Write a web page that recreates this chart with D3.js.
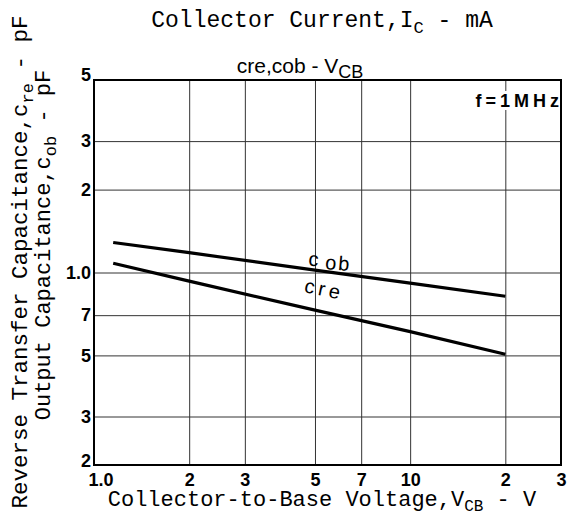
<!DOCTYPE html>
<html><head><meta charset="utf-8">
<script src="https://cdn.jsdelivr.net/npm/d3@7"></script>
<style>
html,body{margin:0;padding:0;background:#fff;}
svg{display:block;}
</style></head>
<body>
<script>
// ---- data ----
const vcb = [1.15, 2, 5, 10, 20];
const cob = [1.285, 1.18, 1.02, 0.915, 0.82];
const cre = [1.08, 0.93, 0.73, 0.61, 0.505];
const xTicks = [1, 2, 3, 5, 7, 10, 20, 30];
const xTickLabels = ["1.0", "2", "3", "5", "7", "10", "2", "3"];
const yTicks = [0.2, 0.3, 0.5, 0.7, 1, 2, 3, 5];
const yTickLabels = ["2", "3", "5", "7", "1.0", "2", "3", "5"];

const W = 572, H = 518;
const L = 94, R = 561, T = 80, B = 465;
const mono = "'Liberation Mono','DejaVu Sans Mono',monospace";
const sans = "'Liberation Sans Narrow','Liberation Sans',Arial,sans-serif";

const svg = d3.select("body").append("svg").attr("width", W).attr("height", H);
const x = d3.scaleLog().domain([1, 30]).range([L, R]);
const y = d3.scaleLog().domain([0.2, 5]).range([B, T]);

// grid + x labels
const gx = svg.append("g").attr("transform", `translate(0,${B})`)
  .call(d3.axisBottom(x).tickValues(xTicks).tickSize(-(B - T)).tickPadding(8)
    .tickFormat((d, i) => xTickLabels[i]));
gx.select(".domain").remove();
gx.selectAll(".tick line").attr("stroke", "#333").attr("stroke-width", 1);
gx.selectAll(".tick text").attr("fill", "#000").style("font-family", sans)
  .style("font-size", "18px").style("font-weight", "bold");
gx.selectAll(".tick text").filter((d, i) => i === 0).attr("text-anchor", "start").attr("dx", -6);

const gy = svg.append("g").attr("transform", `translate(${L},0)`)
  .call(d3.axisLeft(y).tickValues(yTicks).tickSize(-(R - L)).tickPadding(3)
    .tickFormat((d, i) => yTickLabels[i]));
gy.select(".domain").remove();
gy.selectAll(".tick line").attr("stroke", "#333").attr("stroke-width", 1);
gy.selectAll(".tick text").attr("fill", "#000").style("font-family", sans)
  .style("font-size", "18px").style("font-weight", "bold");
gy.selectAll(".tick text").filter((d, i) => i === yTicks.length - 1).attr("dy", "0");
gy.selectAll(".tick text").filter((d, i) => i === 0).attr("dy", "0.1em");

// f = 1MHz label with white backing
svg.append("rect").attr("x", 468).attr("y", 91).attr("width", 92).attr("height", 19).attr("fill", "#fff");
svg.append("text").attr("x", 563).attr("y", 107).attr("text-anchor", "end")
  .style("font-family", sans).style("font-size", "18px").style("font-weight", "bold")
  .style("letter-spacing", "4px").text("f=1MHz");

// border
svg.append("rect").attr("x", L).attr("y", T).attr("width", R - L).attr("height", B - T)
  .attr("fill", "none").attr("stroke", "#000").attr("stroke-width", 2);

// curves
const line = d3.line().x(d => x(d[0])).y(d => y(d[1]));
svg.append("path").datum(vcb.map((v, i) => [v, cob[i]])).attr("d", line)
  .attr("fill", "none").attr("stroke", "#000").attr("stroke-width", 3.2);
svg.append("path").datum(vcb.map((v, i) => [v, cre[i]])).attr("d", line)
  .attr("fill", "none").attr("stroke", "#000").attr("stroke-width", 3.2);

// curve labels
const lc = svg.append("text").attr("transform", `translate(${x(4.75)},${y(1.0) - 7}) rotate(5)`)
  .style("font-family", sans).style("font-size", "20px").style("letter-spacing", "2px");
lc.append("tspan").text("c");
lc.append("tspan").attr("dx", 5).attr("dy", 2).text("ob");
svg.append("text").attr("transform", `translate(${x(4.6)},${y(0.75) - 15}) rotate(12)`)
  .style("font-family", sans).style("font-size", "20px").style("letter-spacing", "4px").text("cre");

// chart title
const t = svg.append("text").attr("x", 300).attr("y", 73).attr("text-anchor", "middle")
  .style("font-family", sans).style("font-size", "21px");
t.append("tspan").text("cre,cob - V");
t.append("tspan").attr("dy", 5).style("font-size", "18px").text("CB");

// top axis title (from chart above)
const tt = svg.append("text").attr("x", 322).attr("y", 27).attr("text-anchor", "middle")
  .style("font-family", mono).style("font-size", "23px");
tt.append("tspan").text("Collector Current,I");
tt.append("tspan").attr("dy", 6).style("font-size", "17px").text("C");
tt.append("tspan").attr("dy", -6).text(" - mA");

// x axis title
const xt = svg.append("text").attr("x", 322).attr("y", 506).attr("text-anchor", "middle")
  .style("font-family", mono).style("font-size", "22px");
xt.append("tspan").text("Collector-to-Base Voltage,V");
xt.append("tspan").attr("dy", 5).style("font-size", "16px").text("CB");
xt.append("tspan").attr("dy", -5).text(" - V");

// y axis titles
const y1 = svg.append("text").attr("transform", "translate(27,262) rotate(-90)").attr("text-anchor", "middle")
  .style("font-family", mono).style("font-size", "22.5px");
y1.append("tspan").text("Reverse Transfer Capacitance,c");
y1.append("tspan").attr("dy", 6).style("font-size", "17px").text("re");
y1.append("tspan").attr("dy", -6).text(" - pF");

const y2 = svg.append("text").attr("transform", "translate(50,245) rotate(-90)").attr("text-anchor", "middle")
  .style("font-family", mono).style("font-size", "22px");
y2.append("tspan").text("Output Capacitance,c");
y2.append("tspan").attr("dy", 6).style("font-size", "17px").text("ob");
y2.append("tspan").attr("dy", -6).text(" - pF");
</script>
</body></html>
